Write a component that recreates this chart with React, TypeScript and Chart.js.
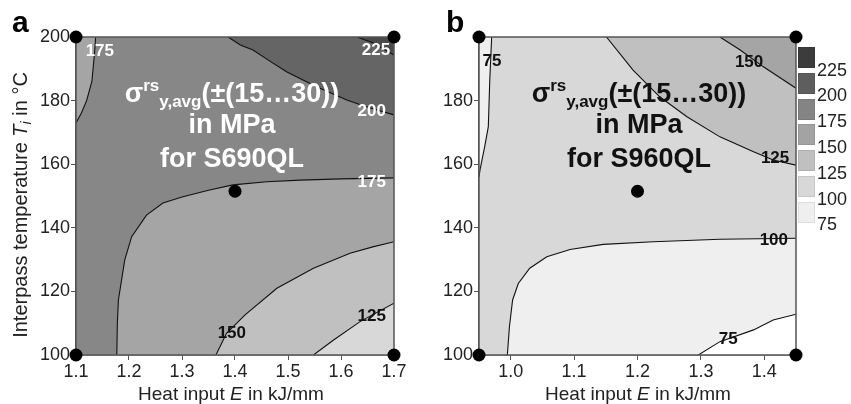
import React, { useEffect, useRef } from 'react';
import { Chart, registerables } from 'chart.js';

Chart.register(...registerables);

const FONT = '"Liberation Sans", Arial, Helvetica, sans-serif';

// ---------- shared ----------
const yRange = [100, 200];
const levelColors = {
  below75: '#ffffff',
  l75: '#efefef',
  l100: '#d8d8d8',
  l125: '#c0c0c0',
  l150: '#a5a5a5',
  l175: '#878787',
  l200: '#656565',
  l225: '#4a4a4a',
};
const legendLevels = [225, 200, 175, 150, 125, 100, 75];
const legendColors = ['#3c3c3c', '#5e5e5e', '#848484', '#a3a3a3', '#c0c0c0', '#d8d8d8', '#efefef'];

// ---------- panel a (S690QL) ----------
const xRangeA = [1.1, 1.7];
const xTicksA = [1.1, 1.2, 1.3, 1.4, 1.5, 1.6, 1.7];
const yTicksA = [100, 120, 140, 160, 180, 200];
const c175TopLeftA = [[1.1, 173], [1.11, 176], [1.12, 180], [1.13, 186], [1.135, 195], [1.137, 200]];
const c225A = [[1.63, 200], [1.66, 198.2], [1.7, 194.3]];
const c200A = [[1.387, 200], [1.41, 197.5], [1.434, 195.9], [1.465, 192.5], [1.498, 189], [1.555, 184.3], [1.611, 180.2], [1.649, 178], [1.7, 175.5]];
const c175A = [[1.177, 100], [1.178, 110], [1.18, 117.3], [1.192, 129.9], [1.205, 137.2], [1.233, 144], [1.264, 147.8], [1.3, 149.7], [1.35, 151.8], [1.396, 153.5], [1.46, 154.5], [1.523, 155], [1.6, 155.4], [1.7, 155.7]];
const c150A = [[1.364, 100], [1.384, 106.8], [1.419, 112.6], [1.479, 121], [1.548, 127.3], [1.617, 132], [1.66, 134], [1.7, 135.6]];
const c125A = [[1.548, 100], [1.586, 104.7], [1.636, 110.5], [1.7, 116.3]];
const pointsA = [[1.1, 200], [1.7, 200], [1.1, 100], [1.7, 100], [1.4, 151.5]];
const labelsA = [
  { text: '175', x: 1.145, y: 195.6, color: '#ffffff' },
  { text: '225', x: 1.666, y: 195.9, color: '#ffffff' },
  { text: '200', x: 1.658, y: 176.7, color: '#ffffff' },
  { text: '175', x: 1.658, y: 154.4, color: '#ffffff' },
  { text: '150', x: 1.394, y: 106.9, color: '#111111' },
  { text: '125', x: 1.658, y: 112.3, color: '#111111' },
];

// ---------- panel b (S960QL) ----------
const xRangeB = [0.95, 1.45];
const xTicksB = [1.0, 1.1, 1.2, 1.3, 1.4];
const yTicksB = [100, 120, 140, 160, 180];
const c75TopLeftB = [[0.95, 156], [0.9516, 158.2], [0.959, 165.5], [0.9647, 171.8], [0.967, 186.5], [0.97, 200]];
const c125B = [[1.151, 200], [1.193, 189.6], [1.235, 181.2], [1.278, 174.9], [1.33, 168.6], [1.383, 163.9], [1.414, 161.3], [1.45, 159.7]];
const c150B = [[1.33, 200], [1.362, 195.9], [1.398, 190.7], [1.45, 183.9]];
const c100B = [[0.9947, 100], [0.998, 108.9], [1.003, 117.3], [1.012, 122.5], [1.03, 127.3], [1.057, 130.9], [1.0935, 133.2], [1.146, 134.8], [1.225, 135.6], [1.33, 136.4], [1.45, 136.7]];
const c75B = [[1.296, 100], [1.33, 104.2], [1.383, 107.9], [1.414, 111], [1.45, 112.8]];
const pointsB = [[0.95, 200], [1.45, 200], [0.95, 100], [1.45, 100], [1.2, 151.5]];
const labelsB = [
  { text: '75', x: 0.9705, y: 192.5, color: '#111111' },
  { text: '150', x: 1.376, y: 192.1, color: '#111111' },
  { text: '125', x: 1.417, y: 161.9, color: '#111111' },
  { text: '100', x: 1.415, y: 136.2, color: '#111111' },
  { text: '75', x: 1.343, y: 105, color: '#111111' },
];

// ---------- helpers ----------
const pts = (arr: number[][]) => arr.map(([x, y]) => ({ x, y }));

function polygon(arr: number[][], color: string, order: number) {
  return {
    data: pts(arr),
    fill: 'shape',
    backgroundColor: color,
    borderColor: 'rgba(0,0,0,0)',
    borderWidth: 0,
    pointRadius: 0,
    tension: 0,
    order,
  };
}
function contour(arr: number[][]) {
  return {
    data: pts(arr),
    fill: false,
    borderColor: '#111111',
    borderWidth: 1.1,
    pointRadius: 0,
    tension: 0,
    order: 3,
  };
}
function frame(xr: number[], yr: number[]) {
  return {
    data: pts([[xr[0], yr[0]], [xr[0], yr[1]], [xr[1], yr[1]], [xr[1], yr[0]], [xr[0], yr[0]]]),
    fill: false,
    borderColor: '#555555',
    borderWidth: 1.5,
    pointRadius: 0,
    tension: 0,
    clip: false,
    order: 2,
  };
}
function dots(arr: number[][]) {
  return {
    data: pts(arr),
    showLine: false,
    pointRadius: 6.5,
    pointBackgroundColor: '#000000',
    pointBorderWidth: 0,
    borderColor: 'rgba(0,0,0,0)',
    fill: false,
    clip: false,
    order: 1,
  };
}

function labelPlugin(labels: { text: string; x: number; y: number; color: string }[]) {
  return {
    id: 'contourLabels',
    afterDatasetsDraw(chart: any) {
      const { ctx, scales } = chart;
      ctx.save();
      ctx.font = `bold 17px ${FONT}`;
      ctx.textAlign = 'center';
      ctx.textBaseline = 'middle';
      for (const l of labels) {
        ctx.fillStyle = l.color;
        ctx.fillText(l.text, scales.x.getPixelForValue(l.x), scales.y.getPixelForValue(l.y));
      }
      ctx.restore();
    },
  };
}

function makeConfig(opts: {
  datasets: any[];
  xr: number[];
  xTicks: number[];
  yTicks: number[];
  yWidth: number;
  padRight: number;
  labels: any[];
}) {
  const tickFont = { family: FONT, size: 18 };
  return {
    type: 'line',
    data: { datasets: opts.datasets },
    plugins: [labelPlugin(opts.labels)],
    options: {
      animation: false,
      responsive: false,
      events: [],
      layout: { padding: { left: 0, top: 37, right: opts.padRight, bottom: 0 } },
      plugins: { legend: { display: false }, tooltip: { enabled: false } },
      scales: {
        x: {
          type: 'linear',
          min: opts.xr[0],
          max: opts.xr[1],
          afterBuildTicks: (s: any) => {
            s.ticks = opts.xTicks.map((v) => ({ value: v }));
          },
          afterFit: (s: any) => {
            s.height = 49;
          },
          ticks: {
            callback: (v: any) => Number(v).toFixed(1),
            font: tickFont,
            color: '#222222',
            padding: 1,
            autoSkip: false,
            maxRotation: 0,
          },
          grid: { drawOnChartArea: false, tickLength: 5, color: '#555555', lineWidth: 1 },
          border: { display: true, color: '#555555', width: 1.5 },
        },
        y: {
          type: 'linear',
          min: yRange[0],
          max: yRange[1],
          afterBuildTicks: (s: any) => {
            s.ticks = opts.yTicks.map((v) => ({ value: v }));
          },
          afterFit: (s: any) => {
            s.width = opts.yWidth;
          },
          ticks: {
            callback: (v: any) => String(v),
            font: tickFont,
            color: '#222222',
            padding: 1,
            autoSkip: false,
          },
          grid: { drawOnChartArea: false, tickLength: 5, color: '#555555', lineWidth: 1 },
          border: { display: true, color: '#555555', width: 1.5 },
        },
      },
    },
  } as any;
}

const configA = () =>
  makeConfig({
    xr: xRangeA,
    xTicks: xTicksA,
    yTicks: yTicksA,
    yWidth: 76,
    padRight: 31,
    labels: labelsA,
    datasets: [
      dots(pointsA),
      frame(xRangeA, yRange),
      contour(c175TopLeftA),
      contour(c225A),
      contour(c200A),
      contour(c175A),
      contour(c150A),
      contour(c125A),
      polygon([[xRangeA[0], yRange[0]], [xRangeA[0], yRange[1]], [xRangeA[1], yRange[1]], [xRangeA[1], yRange[0]]], levelColors.l175, 20),
      polygon([[xRangeA[0], yRange[1]], ...c175TopLeftA], levelColors.l150, 15),
      polygon([...c200A, [xRangeA[1], yRange[1]]], levelColors.l200, 15),
      polygon([...c225A, [xRangeA[1], yRange[1]]], levelColors.l225, 14),
      polygon([...c175A, [xRangeA[1], yRange[0]]], levelColors.l150, 14),
      polygon([...c150A, [xRangeA[1], yRange[0]]], levelColors.l125, 13),
      polygon([...c125A, [xRangeA[1], yRange[0]]], levelColors.l100, 12),
    ],
  });

const configB = () =>
  makeConfig({
    xr: xRangeB,
    xTicks: xTicksB,
    yTicks: yTicksB,
    yWidth: 54,
    padRight: 55,
    labels: labelsB,
    datasets: [
      dots(pointsB),
      frame(xRangeB, yRange),
      contour(c75TopLeftB),
      contour(c125B),
      contour(c150B),
      contour(c100B),
      contour(c75B),
      polygon([[xRangeB[0], yRange[0]], [xRangeB[0], yRange[1]], [xRangeB[1], yRange[1]], [xRangeB[1], yRange[0]]], levelColors.l100, 20),
      polygon([[xRangeB[0], yRange[1]], ...c75TopLeftB], levelColors.l75, 15),
      polygon([...c125B, [xRangeB[1], yRange[1]]], levelColors.l125, 15),
      polygon([...c150B, [xRangeB[1], yRange[1]]], levelColors.l150, 14),
      polygon([...c100B, [xRangeB[1], yRange[0]]], levelColors.l75, 15),
      polygon([...c75B, [xRangeB[1], yRange[0]]], levelColors.below75, 14),
    ],
  });

const abs = (s: React.CSSProperties): React.CSSProperties => ({ position: 'absolute', whiteSpace: 'nowrap', ...s });

function BigTitle({ cx, color, steel }: { cx: number; color: string; steel: string }) {
  const base: React.CSSProperties = {
    left: cx,
    transform: 'translateX(-50%)',
    font: `bold 27px ${FONT}`,
    lineHeight: '27px',
    color,
    textAlign: 'center',
  };
  return (
    <>
      <div style={abs({ ...base, top: 80 })}>
        σ
        <span style={{ fontSize: 17, position: 'relative', top: -11 }}>rs</span>
        <span style={{ fontSize: 17, position: 'relative', top: 5 }}>y,avg</span>
        (±(15…30))
      </div>
      <div style={abs({ ...base, top: 111 })}>in MPa</div>
      <div style={abs({ ...base, top: 145 })}>for {steel}</div>
    </>
  );
}

export default function App() {
  const refA = useRef<HTMLCanvasElement>(null);
  const refB = useRef<HTMLCanvasElement>(null);

  useEffect(() => {
    const a = new Chart(refA.current as HTMLCanvasElement, configA());
    const b = new Chart(refB.current as HTMLCanvasElement, configB());
    return () => {
      a.destroy();
      b.destroy();
    };
  }, []);

  const axisTitle: React.CSSProperties = { font: `19px ${FONT}`, lineHeight: '19px', color: '#222' };

  return (
    <div style={{ position: 'absolute', left: 0, top: 0, width: 851, height: 404, background: '#fff', overflow: 'hidden' }}>
      <canvas ref={refA} width={425} height={404} style={{ position: 'absolute', left: 0, top: 0, width: 425, height: 404 }} />
      <canvas ref={refB} width={426} height={404} style={{ position: 'absolute', left: 425, top: 0, width: 426, height: 404 }} />

      <div style={abs({ left: 12, top: 7, font: `bold 30px ${FONT}`, lineHeight: '30px', color: '#000' })}>a</div>
      <div style={abs({ left: 446, top: 7, font: `bold 30px ${FONT}`, lineHeight: '30px', color: '#000' })}>b</div>

      <BigTitle cx={232} color="#ffffff" steel="S690QL" />
      <BigTitle cx={639} color="#111111" steel="S960QL" />

      <div style={abs({ ...axisTitle, fontSize: 20, lineHeight: '20px', left: 21, top: 205, transform: 'translate(-50%, -50%) rotate(-90deg)' })}>
        Interpass temperature <i>T</i>
        <span style={{ fontSize: 14, fontStyle: 'italic', position: 'relative', top: 4 }}>i</span> in °C
      </div>
      <div style={abs({ ...axisTitle, left: 231, top: 384, transform: 'translateX(-50%)' })}>
        Heat input <i>E</i> in kJ/mm
      </div>
      <div style={abs({ ...axisTitle, left: 638, top: 384, transform: 'translateX(-50%)' })}>
        Heat input <i>E</i> in kJ/mm
      </div>

      {legendLevels.map((lv, i) => (
        <React.Fragment key={lv}>
          <div
            style={abs({
              left: 798,
              top: 47 + i * 25.8,
              width: 17,
              height: 21,
              background: legendColors[i],
              boxShadow: 'inset 0 0 0 1px rgba(0,0,0,0.08)',
            })}
          />
          <div style={abs({ left: 817, top: 47 + i * 25.8 + 22.5 - 9, font: `18px ${FONT}`, lineHeight: '18px', color: '#222' })}>
            {lv}
          </div>
        </React.Fragment>
      ))}
    </div>
  );
}
